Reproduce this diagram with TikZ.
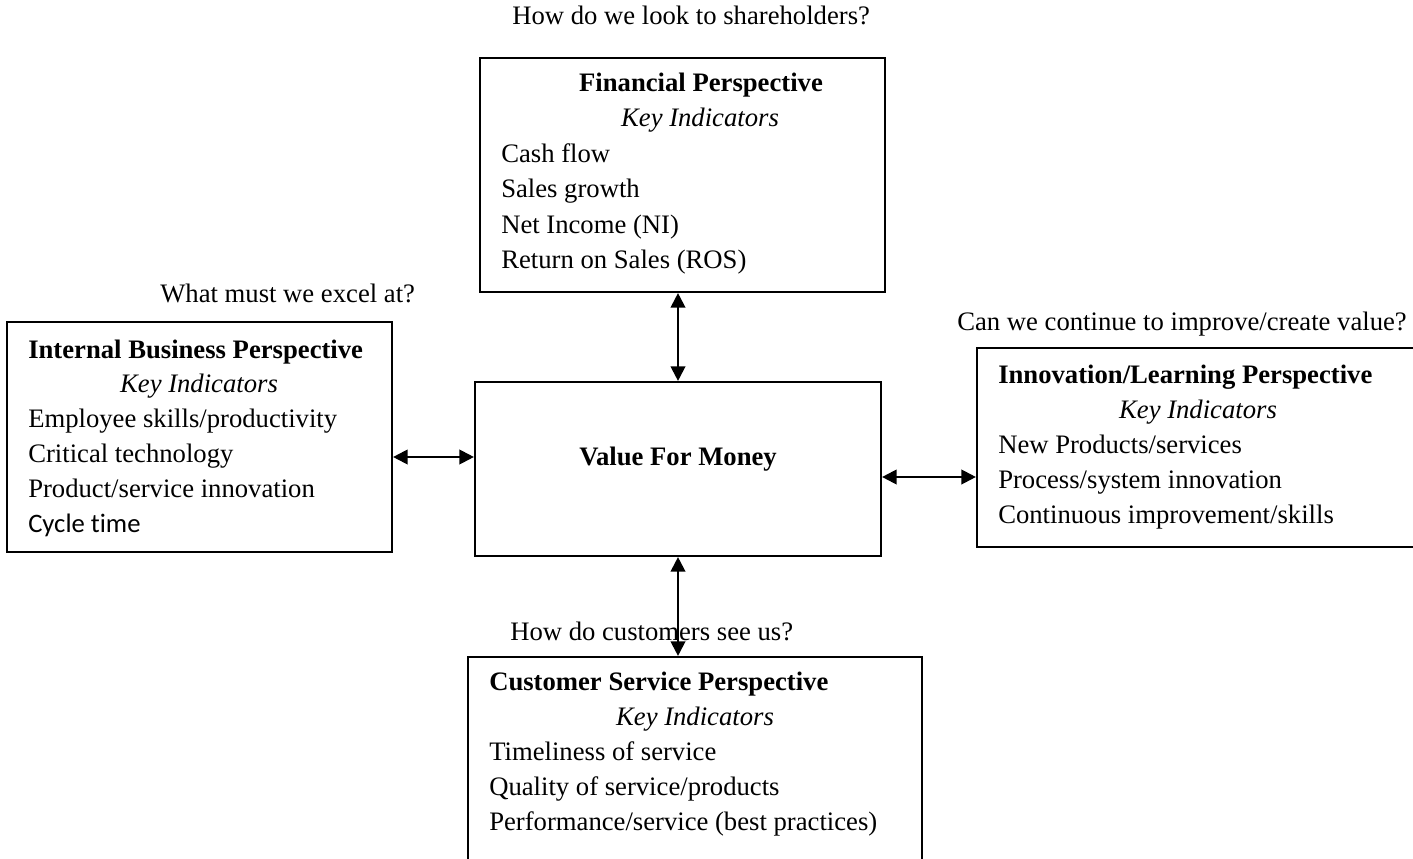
\documentclass[tikz,border=0pt]{standalone}
\usepackage{fontspec}
\setmainfont{Liberation Serif}
\newfontfamily\calib[Ligatures=NoCommon]{Carlito}
\usetikzlibrary{arrows.meta}
\begin{document}
\begin{tikzpicture}[x=0.75pt,y=-0.75pt,
  box/.style={draw,line width=1.6pt,inner sep=0pt},
  txt/.style={inner sep=0pt,anchor=base west,font=\fontsize{20}{24}\selectfont},
  ctxt/.style={inner sep=0pt,anchor=base,font=\fontsize{20}{24}\selectfont},
  head/.style={font=\fontsize{20}{24}\selectfont\bfseries},
  ital/.style={font=\fontsize{20}{24}\selectfont\itshape},
  link/.style={line width=1.6pt,{Triangle[length=11pt,width=11pt]}-{Triangle[length=11pt,width=11pt]}}]
\useasboundingbox (0,0) rectangle (1413,859);
\clip (0,0) rectangle (1413,859);
% boxes
\node[box,minimum width=405*0.75pt,minimum height=234*0.75pt] (fin) at (682.5,175) {};
\node[box,minimum width=385*0.75pt,minimum height=230*0.75pt] (int) at (199.5,437) {};
\node[box,minimum width=406*0.75pt,minimum height=174*0.75pt] (vfm) at (678,469) {};
\node[box,minimum width=480*0.75pt,minimum height=199*0.75pt] (inn) at (1217,447.5) {};
\node[box,minimum width=454*0.75pt,minimum height=240*0.75pt] (cust) at (695,777) {};
% outside labels
\node[txt] (q1) at (512,25) {How do we look to shareholders?};
\node[txt] (q2) at (160,302) {What must we excel at?};
\node[txt] (q3) at (957,330) {Can we continue to improve/create value?};
\node[txt] (q4) at (510,640) {How do customers see us?};
% financial
\node[ctxt,head] (f0) at (701,92) {Financial Perspective};
\node[ctxt,ital] (f1) at (700,127) {Key Indicators};
\node[txt] (f2) at (501,163) {Cash flow};
\node[txt] (f3) at (501,198) {Sales growth};
\node[txt] (f4) at (501,234) {Net Income (NI)};
\node[txt] (f5) at (501,269) {Return on Sales (ROS)};
% internal
\node[txt,head] (i0) at (28,358) {Internal Business Perspective};
\node[ctxt,ital] (i1) at (199,392) {Key Indicators};
\node[txt] (i2) at (28,427) {Employee skills/productivity};
\node[txt] (i3) at (28,462) {Critical technology};
\node[txt] (i4) at (28,497) {Product/service innovation};
\node[txt,font=\fontsize{20}{24}\selectfont\calib] (i5) at (28,532) {Cycle time};
% value for money
\node[ctxt,head] (v0) at (678,465) {Value For Money};
% innovation
\node[txt,head] (n0) at (998,383) {Innovation/Learning Perspective};
\node[ctxt,ital] (n1) at (1198,418) {Key Indicators};
\node[txt] (n2) at (998,453) {New Products/services};
\node[txt] (n3) at (998,488) {Process/system innovation};
\node[txt] (n4) at (998,523) {Continuous improvement/skills};
% customer
\node[txt,head] (c0) at (489,690) {Customer Service Perspective};
\node[ctxt,ital] (c1) at (695,725) {Key Indicators};
\node[txt] (c2) at (489,760) {Timeliness of service};
\node[txt] (c3) at (489,795) {Quality of service/products};
\node[txt] (c4) at (489,830) {Performance/service (best practices)};
% connectors
\draw[link] (fin.south -| vfm.north) -- (vfm.north);
\draw[link] (vfm.south) -- (vfm.south |- cust.north);
\draw[link] (int.east |- 0,457) -- (vfm.west |- 0,457);
\draw[link] (vfm.east |- 0,477) -- (inn.west |- 0,477);
\end{tikzpicture}
\end{document}
